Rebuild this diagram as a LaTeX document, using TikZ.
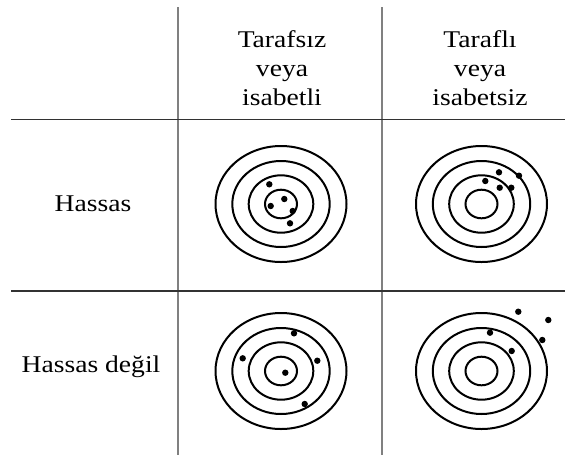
\documentclass[tikz,border=0pt]{standalone}
\usepackage{fontspec}
\setmainfont{Liberation Serif}[FakeStretch=1.15]

\tikzset{every picture/.style={line width=1.5pt}}
\tikzset{
  lbl/.style={anchor=base, inner sep=0.75pt, align=center,
    font=\fontsize{18}{21.4}\selectfont},
  dot/.style={fill=black},
  pics/target/.style={code={
    \draw (0,0) ellipse [x radius=65.5, y radius=58];
    \draw (0,0) ellipse [x radius=48.7, y radius=43];
    \draw (0,0) ellipse [x radius=32.3, y radius=28.7];
    \draw (0,0) ellipse [x radius=16, y radius=14.3];
  }},
}

\begin{document}
\begin{tikzpicture}[x=0.75pt,y=0.75pt,yscale=-1,xscale=1]
\useasboundingbox (0,0) rectangle (565,455);

% table rules
\draw [color={rgb,255:red,128;green,128;blue,128}] (177.5,7) -- (177.5,455);
\draw [color={rgb,255:red,128;green,128;blue,128}] (382,7) -- (382,455);
\draw [color={rgb,255:red,50;green,50;blue,50}, line width=1.2pt] (11,119.5) -- (565,119.5);
\draw [color={rgb,255:red,50;green,50;blue,50}, line width=1.2pt] (11,291) -- (565,291);

% Text Node
\node [lbl] (hdrA) at (282,105) {Tarafsız\\veya\\isabetli};
% Text Node
\node [lbl] (hdrB) at (480,105) {Taraflı\\veya\\isabetsiz};
% Text Node
\node [lbl] (rowA) at (93,211.5) {Hassas};
% Text Node
\node [lbl] (rowB) at (91,372) {Hassas değil};

% targets
\pic at (281,204) {target};
\pic at (481.5,204) {target};
\pic at (281,371) {target};
\pic at (481.5,371) {target};

% shots
\begin{scope}[shift={(281,204)}]
\foreach \dx/\dy in {-11.7/-19.7, 3.3/-5, -10.3/2, 11.7/7, 9/19.3}
  \fill [dot] (\dx,\dy) circle [radius=3.2];
\end{scope}
\begin{scope}[shift={(481.5,204)}]
\foreach \dx/\dy in {17.5/-31.7, 37.5/-28.3, 3.8/-23, 18.2/-16.3, 29.8/-16.3}
  \fill [dot] (\dx,\dy) circle [radius=3.2];
\end{scope}
\begin{scope}[shift={(281,371)}]
\foreach \dx/\dy in {13/-37.7, -38.3/-12.7, 36.3/-10.3, 4.3/1.7, 23.7/33}
  \fill [dot] (\dx,\dy) circle [radius=3.2];
\end{scope}
\begin{scope}[shift={(481.5,371)}]
\foreach \dx/\dy in {36.8/-59.3, 66.8/-51, 8.5/-38.3, 60.8/-31, 30.2/-20}
  \fill [dot] (\dx,\dy) circle [radius=3.2];
\end{scope}

\end{tikzpicture}
\end{document}
